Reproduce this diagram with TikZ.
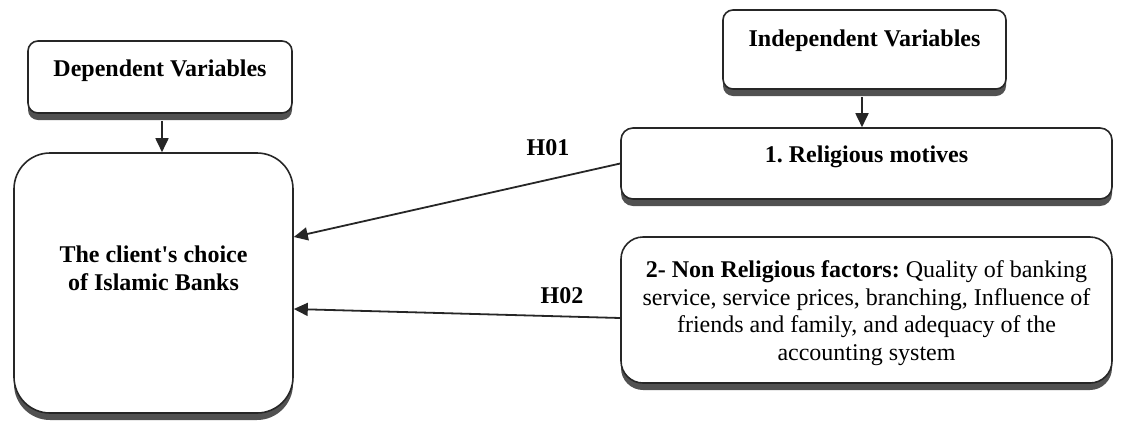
\documentclass[tikz,border=0pt]{standalone}
\usepackage{fontspec}
\setmainfont{Liberation Serif}
\newfontfamily\plainserif{Liberation Serif}[Ligatures=TeXOff]
\usetikzlibrary{arrows.meta,shadows}
\frenchspacing
\begin{document}
\begin{tikzpicture}[x=1pt,y=-1pt,
  box/.style={draw=black!85,line width=1.6pt,fill=white,
    drop shadow={shadow xshift=0pt,shadow yshift=-7pt,fill=black!80,opacity=0.85},
    inner sep=0pt},
  txt/.style={font=\fontsize{24}{27.6}\selectfont,align=center,inner sep=0pt},
  btxt/.style={txt,font=\fontsize{24}{27.6}\selectfont\bfseries},
  arr/.style={draw=black!85,line width=1.8pt,-{Triangle[length=14pt,width=13pt]}},
  hlab/.style={font=\fontsize{24}{27.6}\selectfont\bfseries,inner sep=0pt}]
\useasboundingbox (0,0) rectangle (1136,424);
% boxes
\node[box,rounded corners=10pt,minimum width=264pt,minimum height=72pt] (dep) at (160,77) {};
\node[box,rounded corners=36pt,minimum width=279pt,minimum height=260pt] (big) at (153.5,283) {};
\node[box,rounded corners=10pt,minimum width=283pt,minimum height=79pt] (ind) at (864.5,49.5) {};
\node[box,rounded corners=12pt,minimum width=491pt,minimum height=71pt] (rel) at (866.5,163.5) {};
\node[box,rounded corners=22pt,minimum width=491pt,minimum height=146pt] (non) at (866.5,310) {};
% texts
\node[btxt] (deptxt) at (160,71) {Dependent Variables};
\node[btxt] (bigtxt) at (153.5,268) {The client{\plainserif\bfseries '}s choice\\of Islamic Banks};
\node[btxt] (indtxt) at (864.5,41) {Independent Variables};
\node[btxt] (reltxt) at (866.5,157) {1. Religious motives};
\node[txt] (nontxt) at (866.5,313) {\textbf{2- Non Religious factors:} Quality of banking\\service, service prices, branching, Influence of\\friends and family, and adequacy of the\\accounting system};
% connectors
\draw[arr] ([xshift=2pt,yshift=-7pt]dep.south) -- ([xshift=8.5pt]big.north);
\draw[arr] ([xshift=-2.5pt,yshift=-7pt]ind.south) -- ([xshift=-4.5pt]rel.north);
\draw[arr] (rel.west) -- ([yshift=46pt]big.east);
\draw[arr] ([yshift=-8pt]non.west) -- ([yshift=-26pt]big.east);
% labels
\node[hlab] (h1) at (548,148) {H01};
\node[hlab] (h2) at (562,296) {H02};
\end{tikzpicture}
\end{document}
